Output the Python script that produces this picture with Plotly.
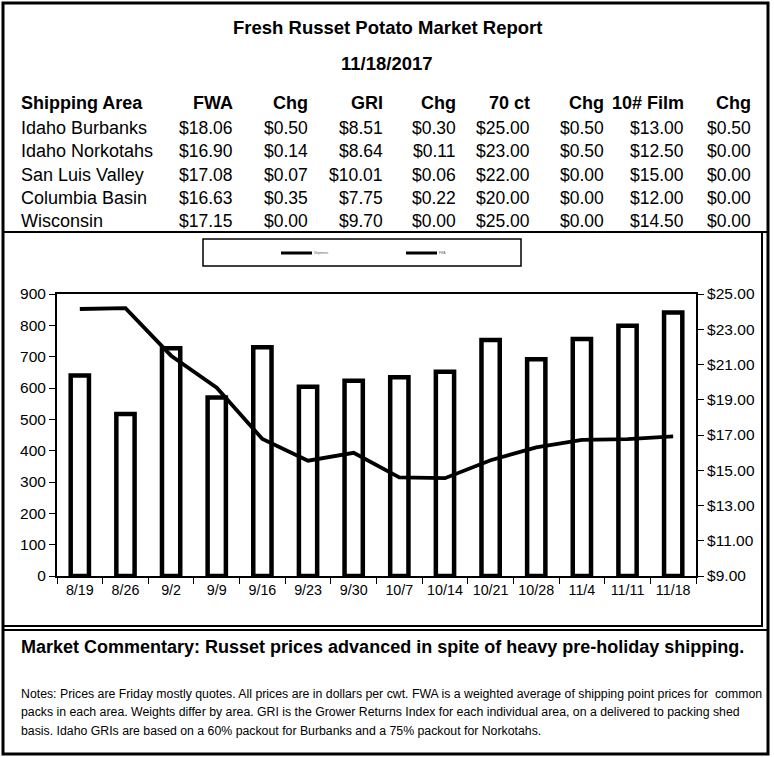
import plotly.graph_objects as go

# ---------------- data ----------------
weeks = ["8/19", "8/26", "9/2", "9/9", "9/16", "9/23", "9/30",
         "10/7", "10/14", "10/21", "10/28", "11/4", "11/11", "11/18"]
shipments = [640, 517, 727, 570, 730, 604, 623, 634, 652, 753, 692, 756, 799, 841]
fwa_trend = [24.15, 24.20, 21.50, 19.68, 16.77, 15.54, 15.99,
             14.60, 14.55, 15.57, 16.30, 16.72, 16.77, 16.92]

areas = ["Idaho Burbanks", "Idaho Norkotahs", "San Luis Valley", "Columbia Basin", "Wisconsin"]
fwa_price = [18.06, 16.90, 17.08, 16.63, 17.15]
fwa_chg = [0.50, 0.14, 0.07, 0.35, 0.00]
gri_price = [8.51, 8.64, 10.01, 7.75, 9.70]
gri_chg = [0.30, 0.11, 0.06, 0.22, 0.00]
ct70_price = [25.00, 23.00, 22.00, 20.00, 25.00]
ct70_chg = [0.50, 0.50, 0.00, 0.00, 0.00]
film_price = [13.00, 12.50, 15.00, 12.00, 14.50]
film_chg = [0.50, 0.00, 0.00, 0.00, 0.00]

col_headers = ["FWA", "Chg", "GRI", "Chg", "70 ct", "Chg", "10# Film", "Chg"]
left_ticks = list(range(0, 901, 100))
right_ticks = list(range(9, 26, 2))

title = "Fresh Russet Potato Market Report"
report_date = "11/18/2017"
commentary = "Market Commentary: Russet prices advanced in spite of heavy pre-holiday shipping."
notes = [
    "Notes: Prices are Friday mostly quotes. All prices are in dollars per cwt. FWA is a weighted average of shipping point prices for  common",
    "packs in each area. Weights differ by area. GRI is the Grower Returns Index for each individual area, on a delivered to packing shed",
    "basis. Idaho GRIs are based on a 60% packout for Burbanks and a 75% packout for Norkotahs.",
]
legend_names = ["Shipments", "FWA"]

# ---------------- layout helpers ----------------
W, H = 774, 757
FONT = "Liberation Sans, Arial, sans-serif"


def px(x):
    return x / W


def py(y):
    return 1 - y / H


annotations = []
shapes = []


def text(x, y, s, size=17, bold=False, anchor="left", color="black"):
    annotations.append(dict(
        x=px(x), y=py(y), xref="paper", yref="paper", showarrow=False,
        text=f"<b>{s}</b>" if bold else s, xanchor=anchor, yanchor="middle",
        borderpad=0, font=dict(family=FONT, size=size, color=color)))


def line(x0, y0, x1, y1, w=2, color="black"):
    shapes.append(dict(type="line", xref="paper", yref="paper",
                       x0=px(x0), y0=py(y0), x1=px(x1), y1=py(y1),
                       line=dict(color=color, width=w)))


def rect(x0, y0, x1, y1, w=2):
    shapes.append(dict(type="rect", xref="paper", yref="paper",
                       x0=px(x0), y0=py(y0), x1=px(x1), y1=py(y1),
                       line=dict(color="black", width=w), fillcolor="rgba(0,0,0,0)"))


# frames
rect(3, 3, 768, 754, w=3)
line(3, 232, 768, 232, w=2)
rect(3, 232, 762, 626, w=2)
line(3, 630, 768, 630, w=2)

# title block
text(387, 28, title, size=18.5, bold=True, anchor="center")
text(387, 64, report_date, size=18.5, bold=True, anchor="center")

# table
col_right = [234, 309, 384, 457, 531, 605, 685, 752]
header_y = 102.5
row_y = [128, 151, 174.5, 198, 221.5]
text(20, header_y, "Shipping Area", size=18, bold=True)
for cx, h in zip(col_right, col_headers):
    text(cx, header_y, h, size=18, bold=True, anchor="right")
columns = [fwa_price, fwa_chg, gri_price, gri_chg, ct70_price, ct70_chg, film_price, film_chg]
for i, area in enumerate(areas):
    text(20, row_y[i], area, size=18)
    for cx, col in zip(col_right, columns):
        text(cx, row_y[i], f"${col[i]:.2f}", size=17.5, anchor="right")

# legend box (drawn)
rect(203, 239, 521, 266, w=1.5)
line(281, 253, 312, 253, w=3)
text(313, 253, legend_names[0], size=3, color="#555")
line(406, 253, 437, 253, w=3)
text(438, 253, legend_names[1], size=3, color="#555")

# commentary and notes
text(20, 647, commentary, size=18, bold=True)
for i, n in enumerate(notes):
    text(20, 693.5 + i * 18.5, n, size=12.3)

# ---------------- traces ----------------
fig = go.Figure()
fig.add_trace(go.Bar(
    x=weeks, y=shipments, width=0.4, name=legend_names[0],
    marker=dict(color="white", line=dict(color="black", width=4.5)),
    yaxis="y"))
fig.add_trace(go.Scatter(
    x=weeks, y=fwa_trend, mode="lines", name=legend_names[1],
    line=dict(color="black", width=3.8), yaxis="y2"))

plot_x0, plot_x1 = 57, 696
plot_top, plot_bot = 294, 576

fig.update_layout(
    width=W, height=H,
    margin=dict(l=0, r=0, t=0, b=0, pad=0, autoexpand=False),
    paper_bgcolor="white", plot_bgcolor="white",
    showlegend=False,
    font=dict(family=FONT, color="black"),
    xaxis=dict(
        domain=[px(plot_x0), px(plot_x1)], automargin=False,
        type="category", tickson="boundaries",
        showline=True, linecolor="black", linewidth=2, mirror=True,
        ticks="outside", ticklen=6, tickcolor="black", tickwidth=1,
        tickfont=dict(size=14.3), showgrid=False, zeroline=False,
    ),
    yaxis=dict(
        domain=[py(plot_bot), py(plot_top)], automargin=False,
        range=[0, 900], tickvals=left_ticks,
        showline=True, linecolor="black", linewidth=2,
        ticks="outside", ticklen=6, tickcolor="black", tickwidth=1,
        tickfont=dict(size=15.5), showgrid=False, zeroline=False,
    ),
    yaxis2=dict(
        overlaying="y", side="right", anchor="x", automargin=False,
        range=[9, 25], tickvals=right_ticks,
        tickformat="$.2f",
        showline=True, linecolor="black", linewidth=2,
        ticks="outside", ticklen=6, tickcolor="black", tickwidth=1,
        tickfont=dict(size=15.5), showgrid=False, zeroline=False,
    ),
    shapes=shapes,
    annotations=annotations,
)

reset_css = (
    "var s=document.createElement('style');"
    "s.textContent='html,body{margin:0!important;padding:0!important;overflow:hidden;}';"
    "document.head.appendChild(s);"
)

fig.write_html(
    "out.html",
    config={"displayModeBar": False},
    post_script=reset_css,
)
